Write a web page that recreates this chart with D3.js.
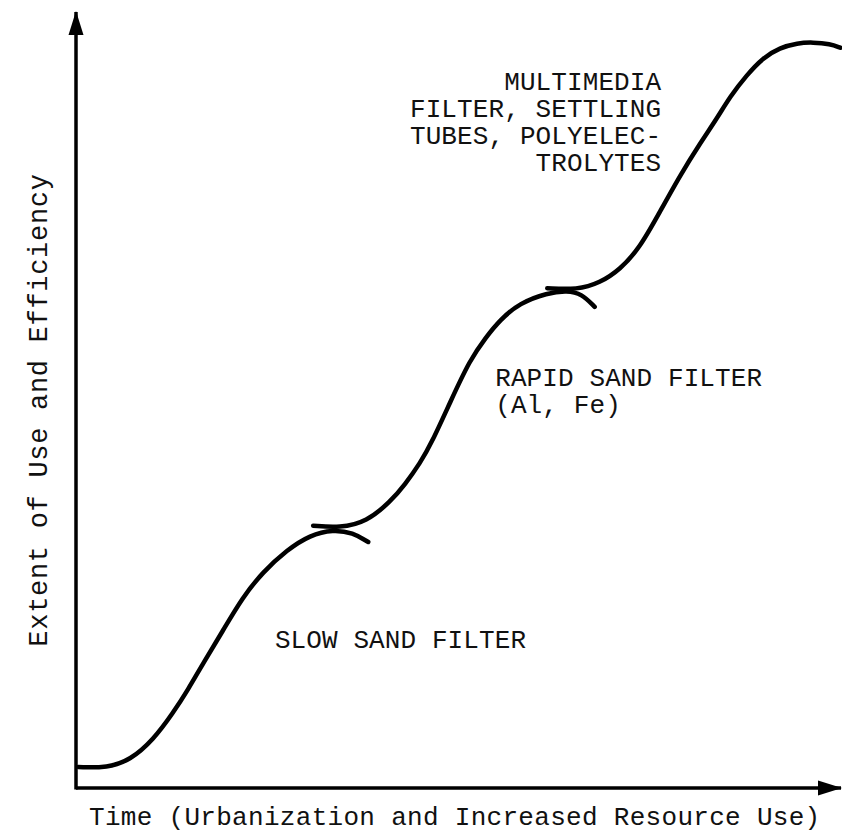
<!DOCTYPE html>
<html>
<head>
<meta charset="utf-8">
<script src="https://cdn.jsdelivr.net/npm/d3@7"></script>
<style>
  body { margin: 0; background: #fff; }
  svg { display: block; }
  text { font-family: "Liberation Mono", "DejaVu Sans Mono", monospace; fill: #111; }
</style>
</head>
<body>
<svg width="842" height="832"></svg>
<script>
const width = 842;
const height = 832;

// stages of filtration technology (x = time, y = extent of use)
const slowSandFilter = [
    [0.3, 2.7], [4.1, 2.6], [7.1, 3.6], [10.1, 6.2], [12.7, 9.7], [14.6, 12.6],
    [16.7, 16.2], [19.1, 20.1], [21.8, 24.6], [24.4, 27.8], [27.6, 30.7],
    [30.6, 32.6], [33.6, 33.3], [36.2, 32.9], [38.2, 31.7]
];
const rapidSandFilter = [
    [31.0, 33.8], [34.5, 33.5], [38.0, 34.3], [41.1, 36.9], [43.0, 39.1], [45.0, 41.9],
    [46.5, 44.5], [48.9, 49.7], [51.5, 55.2], [53.6, 58.1], [55.4, 60.3],
    [58.0, 62.5], [61.6, 63.8], [64.2, 64.1], [66.1, 63.7], [67.8, 62.0]
];
const multimediaFilter = [
    [61.6, 64.4], [65.5, 64.2], [68.5, 65.1], [71.1, 66.8], [73.7, 69.6], [76.3, 74.2],
    [79.0, 79.0], [81.6, 83.1], [83.8, 86.3], [85.5, 89.1], [87.7, 91.9],
    [89.8, 94.1], [92.0, 95.4], [94.3, 96.0], [96.3, 96.1], [98.6, 95.9], [99.9, 95.4]
];
const stages = [slowSandFilter, rapidSandFilter, multimediaFilter];

// labels: [x, y, anchor, lines]
const labels = [
    [76.5, 89.9, "end", ["MULTIMEDIA", "FILTER, SETTLING", "TUBES, POLYELEC-", "TROLYTES"]],
    [54.8, 51.8, "start", ["RAPID SAND FILTER", "(Al, Fe)"]],
    [26.0, 18.0, "start", ["SLOW SAND FILTER"]]
];

const xTitle = "Time (Urbanization and Increased Resource Use)";
const yTitle = "Extent of Use and Efficiency";

const svg = d3.select("svg");

const x = d3.scaleLinear().domain([0, 100]).range([76, 841]);
const y = d3.scaleLinear().domain([0, 100]).range([788, 12]);

svg.append("defs").append("marker")
    .attr("id", "arrow")
    .attr("markerUnits", "userSpaceOnUse")
    .attr("viewBox", "0 -8 24 16")
    .attr("refX", 23)
    .attr("refY", 0)
    .attr("markerWidth", 24)
    .attr("markerHeight", 16)
    .attr("orient", "auto")
    .append("path")
    .attr("d", "M0,-7.5L24,0L0,7.5Z")
    .attr("fill", "#000");

// axes
svg.append("line")
    .attr("x1", x(0)).attr("y1", y(0))
    .attr("x2", x(100)).attr("y2", y(0))
    .attr("stroke", "#000").attr("stroke-width", 3.5)
    .attr("marker-end", "url(#arrow)");

svg.append("line")
    .attr("x1", x(0)).attr("y1", y(0) + 1.5)
    .attr("x2", x(0)).attr("y2", y(100))
    .attr("stroke", "#000").attr("stroke-width", 3.5)
    .attr("marker-end", "url(#arrow)");

const line = d3.line()
    .x(d => x(d[0]))
    .y(d => y(d[1]))
    .curve(d3.curveBasis);

svg.selectAll("path.stage")
    .data(stages)
    .join("path")
    .attr("class", "stage")
    .attr("d", line)
    .attr("fill", "none")
    .attr("stroke", "#000")
    .attr("stroke-width", 4.5)
    .attr("stroke-linecap", "round");

// stage labels
labels.forEach(([lx, ly, anchor, lines]) => {
    const t = svg.append("text")
        .attr("x", x(lx))
        .attr("y", y(ly))
        .attr("text-anchor", anchor)
        .style("font-size", "26px")
        .style("letter-spacing", "0.1px");
    lines.forEach((s, i) => {
        t.append("tspan")
            .attr("x", x(lx))
            .attr("dy", i === 0 ? 0 : 27)
            .text(s);
    });
});

// axis titles
svg.append("text")
    .attr("x", 89)
    .attr("y", 825)
    .style("font-size", "26px")
    .style("letter-spacing", "0.3px")
    .text(xTitle);

svg.append("text")
    .attr("transform", "translate(47,410) rotate(-90)")
    .attr("text-anchor", "middle")
    .style("font-size", "27px")
    .style("letter-spacing", "0.7px")
    .text(yTitle);
</script>
</body>
</html>
